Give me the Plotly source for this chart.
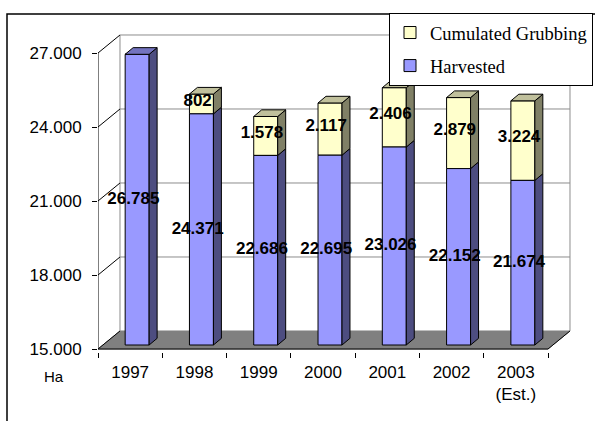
import plotly.graph_objects as go

# ---------------- data ----------------
years = ["1997", "1998", "1999", "2000", "2001", "2002", "2003<br>(Est.)"]
harvested = [26785, 24371, 22686, 22695, 23026, 22152, 21674]
grubbing = [0, 802, 1578, 2117, 2406, 2879, 3224]
y_ticks = [15000, 18000, 21000, 24000, 27000]
series_names = ["Harvested", "Cumulated Grubbing"]


def fmt(v):
    return f"{v:,}".replace(",", ".")


y_tick_text = [fmt(v) for v in y_ticks]

# ---------------- pseudo-3D geometry (styling) ----------------
Y0 = y_ticks[0]
YTOP = y_ticks[-1]
x_lo, x_hi = -0.5, len(years) - 0.5
wall_dx, wall_dy = 0.342, 730      # depth of the floor / back wall
bar_ox, bar_oy = 0.109, 162        # bar front face depth offset
bar_w = 0.373
side_dx, side_dy = 0.124, 270      # depth of each bar

# pixel layout
L, R, T, B = 98, 20, 30, 69
W, H = 595, 421
ppu = 296 / 12000.0
y_lo = Y0 - 3 / ppu
y_hi = y_lo + (H - T - B) / ppu
x_max = x_lo + (W - L - R) / ((548 - 98) / 7.0)

C_H_FRONT, C_H_SIDE, C_H_TOP = "#9999FF", "#4D4D80", "#7373BF"
C_G_FRONT, C_G_SIDE, C_G_TOP = "#FFFFCC", "#808066", "#C0C09C"

FONT = "Liberation Sans"
SERIF = "Liberation Serif"

fig = go.Figure()

# front faces via bar traces (grubbing first so it heads the legend)
xs = [i + bar_ox for i in range(len(years))]
fig.add_trace(go.Bar(
    x=xs, y=grubbing, base=[h + bar_oy for h in harvested],
    width=bar_w, name=series_names[1], legendgroup="g",
    marker=dict(color=C_G_FRONT, line=dict(color="black", width=1)),
    hoverinfo="skip",
))
fig.add_trace(go.Bar(
    x=xs, y=[h - Y0 for h in harvested], base=[Y0 + bar_oy] * len(years),
    width=bar_w, name=series_names[0], legendgroup="h",
    marker=dict(color=C_H_FRONT, line=dict(color="black", width=1)),
    hoverinfo="skip",
))


def poly(px, py, color):
    fig.add_trace(go.Scatter(
        x=px + [px[0]], y=py + [py[0]], mode="lines", fill="toself",
        fillcolor=color, line=dict(color="black", width=1),
        showlegend=False, hoverinfo="skip",
    ))


for i in range(len(years)):
    xl = i + bar_ox - bar_w / 2
    xr = i + bar_ox + bar_w / 2
    segs = [(Y0, harvested[i], C_H_SIDE, C_H_TOP)]
    if grubbing[i] > 0:
        segs.append((harvested[i], harvested[i] + grubbing[i], C_G_SIDE, C_G_TOP))
    for k, (a, b, cs, ct) in enumerate(segs):
        a2, b2 = a + bar_oy, b + bar_oy
        poly([xr, xr + side_dx, xr + side_dx, xr],
             [a2, a2 + side_dy, b2 + side_dy, b2], cs)
        if k == len(segs) - 1:
            poly([xl, xr, xr + side_dx, xl + side_dx],
                 [b2, b2, b2 + side_dy, b2 + side_dy], ct)

# data labels
lab_x, lab_y, lab_t = [], [], []
for i in range(len(years)):
    lab_x.append(i + 0.05)
    lab_y.append((Y0 + harvested[i]) / 2 + bar_oy)
    lab_t.append(f"<b>{fmt(harvested[i])}</b>")
    if grubbing[i] > 0:
        lab_x.append(i + 0.05)
        lab_y.append(harvested[i] + grubbing[i] / 2 + bar_oy + 100)
        lab_t.append(f"<b>{fmt(grubbing[i])}</b>")
fig.add_trace(go.Scatter(
    x=lab_x, y=lab_y, text=lab_t, mode="text",
    textfont=dict(family=FONT, size=17, color="black"),
    showlegend=False, hoverinfo="skip",
))

# ---------------- walls, floor, axes lines ----------------
shapes = []
shapes.append(dict(
    type="path", xref="x", yref="y", layer="below",
    path=(f"M {x_lo},{Y0} L {x_hi},{Y0} L {x_hi + wall_dx},{Y0 + wall_dy} "
          f"L {x_lo + wall_dx},{Y0 + wall_dy} Z"),
    fillcolor="#808080", line=dict(color="#808080", width=1),
))
for v in y_ticks[1:]:
    shapes.append(dict(type="line", xref="x", yref="y", layer="below",
                       x0=x_lo + wall_dx, x1=x_hi + wall_dx,
                       y0=v + wall_dy, y1=v + wall_dy,
                       line=dict(color="#8C8C8C", width=1)))
for xe in (x_lo + wall_dx, x_hi + wall_dx):
    shapes.append(dict(type="line", xref="x", yref="y", layer="below",
                       x0=xe, x1=xe, y0=Y0 + wall_dy, y1=YTOP + wall_dy,
                       line=dict(color="#8C8C8C", width=1)))
for v in y_ticks:
    shapes.append(dict(type="line", xref="x", yref="y", layer="below",
                       x0=x_lo, x1=x_lo + wall_dx, y0=v, y1=v + wall_dy,
                       line=dict(color="black", width=1)))
shapes.append(dict(type="line", xref="x", yref="y", layer="below",
                   x0=x_lo, x1=x_lo, y0=Y0, y1=YTOP,
                   line=dict(color="black", width=1)))
shapes.append(dict(type="line", xref="x", yref="y", layer="below",
                   x0=x_lo, x1=x_hi, y0=Y0, y1=Y0,
                   line=dict(color="black", width=1)))
shapes.append(dict(type="line", xref="x", yref="y", layer="below",
                   x0=x_hi, x1=x_hi + wall_dx, y0=Y0, y1=Y0 + wall_dy,
                   line=dict(color="black", width=1)))
pw, ph = W - L - R, H - T - B
shapes.append(dict(type="rect", xref="paper", yref="paper", layer="below",
                   x0=(7 - L) / pw, x1=(620 - L) / pw,
                   y0=(H - B - 440) / ph, y1=(H - B - 14) / ph,
                   line=dict(color="black", width=1.5)))

fig.update_layout(
    width=W, height=H,
    margin=dict(l=L, r=R, t=T, b=B, pad=0, autoexpand=False),
    paper_bgcolor="white", plot_bgcolor="rgba(0,0,0,0)",
    barmode="overlay",
    shapes=shapes,
    font=dict(family=FONT, size=17, color="black"),
    xaxis=dict(
        range=[x_lo, x_max], tickmode="array",
        tickvals=list(range(len(years))), ticktext=years,
        ticks="", showgrid=False, zeroline=False, showline=False,
        ticklabelstandoff=8, automargin=False,
        minor=dict(tickmode="array",
                   tickvals=[i - 0.5 for i in range(len(years) + 1)],
                   ticks="outside", ticklen=5, tickcolor="black",
                   showgrid=False),
        tickfont=dict(family=FONT, size=17),
    ),
    yaxis=dict(
        range=[y_lo, y_hi], tickmode="array",
        tickvals=y_ticks, ticktext=y_tick_text,
        ticks="outside", ticklen=5, tickcolor="black",
        showgrid=False, zeroline=False, showline=False,
        ticklabelstandoff=7, automargin=False,
        tickfont=dict(family=FONT, size=17),
    ),
    legend=dict(
        xref="container", yref="container",
        x=593 / W, xanchor="right",
        y=1 - 13 / H, yanchor="top",
        traceorder="grouped", tracegroupgap=6,
        bgcolor="white", bordercolor="black", borderwidth=1,
        font=dict(family=SERIF, size=18.5),
    ),
    annotations=[dict(
        text="Ha", xref="paper", yref="paper",
        x=(54 - L) / pw, y=(H - B - 376) / ph,
        xanchor="center", yanchor="middle",
        showarrow=False, font=dict(family=FONT, size=15),
    )],
)

fig.write_html(
    "out.html",
    config={"displayModeBar": False},
    post_script="document.body.style.margin='0';document.body.style.padding='0';",
)
